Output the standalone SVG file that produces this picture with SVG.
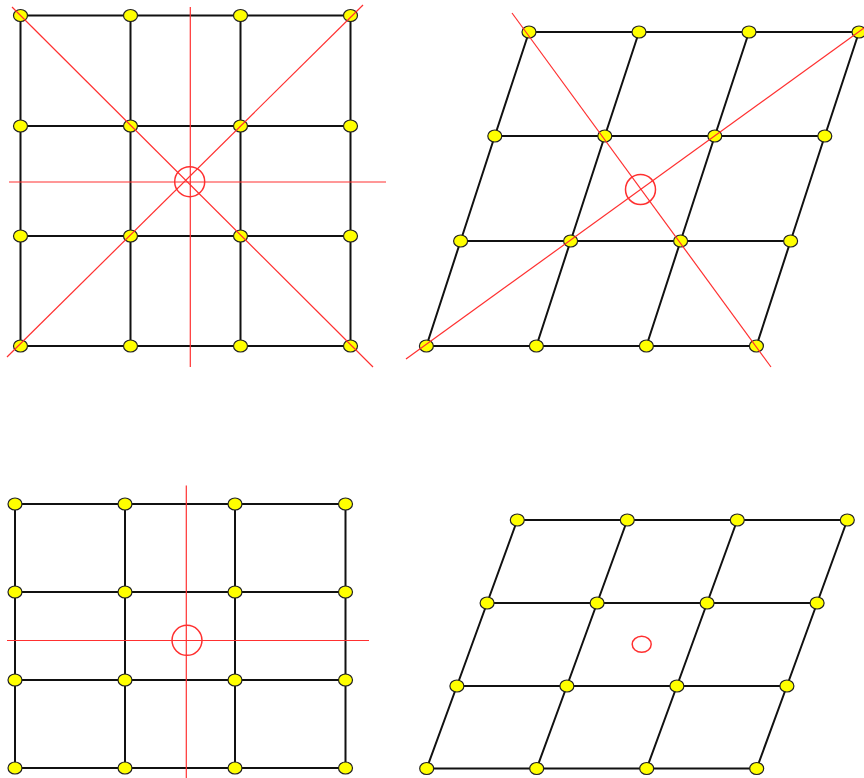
<svg xmlns="http://www.w3.org/2000/svg" width="864" height="778" viewBox="0 0 864 778">
<style>
.bg{fill:#fff}
.edge{stroke:#111;stroke-width:2;fill:none}
.node{fill:#ffff00;stroke:#222;stroke-width:1.2}
.ref{stroke:#ff3030;stroke-width:1.2;fill:none}
.mark{stroke:#ff3030;stroke-width:1.5;fill:none}
</style>
<rect class="bg" x="0" y="0" width="864" height="778"/>
<g id="connectors">
<!-- top-left grid -->
<polyline class="edge" points="20.5,15.5 350.5,15.5"/>
<polyline class="edge" points="20.5,126 350.5,126"/>
<polyline class="edge" points="20.5,236 350.5,236"/>
<polyline class="edge" points="20.5,346 350.5,346"/>
<polyline class="edge" points="20.5,15.5 20.5,346"/>
<polyline class="edge" points="130.5,15.5 130.5,346"/>
<polyline class="edge" points="240.5,15.5 240.5,346"/>
<polyline class="edge" points="350.5,15.5 350.5,346"/>
<!-- top-right grid -->
<polyline class="edge" points="529,32 859,32"/>
<polyline class="edge" points="494.8,136 824.8,136"/>
<polyline class="edge" points="460.6,241 790.6,241"/>
<polyline class="edge" points="426.4,346 756.4,346"/>
<polyline class="edge" points="529,32 494.8,136 460.6,241 426.4,346"/>
<polyline class="edge" points="639,32 604.8,136 570.6,241 536.4,346"/>
<polyline class="edge" points="749,32 714.8,136 680.6,241 646.4,346"/>
<polyline class="edge" points="859,32 824.8,136 790.6,241 756.4,346"/>
<!-- bottom-left grid -->
<polyline class="edge" points="15,504 345.5,504"/>
<polyline class="edge" points="15,592 345.5,592"/>
<polyline class="edge" points="15,680 345.5,680"/>
<polyline class="edge" points="15,768 345.5,768"/>
<polyline class="edge" points="15,504 15,768"/>
<polyline class="edge" points="125,504 125,768"/>
<polyline class="edge" points="235,504 235,768"/>
<polyline class="edge" points="345.5,504 345.5,768"/>
<!-- bottom-right grid -->
<polyline class="edge" points="517.3,520 847.3,520"/>
<polyline class="edge" points="487.1,603 817.1,603"/>
<polyline class="edge" points="456.9,686 786.9,686"/>
<polyline class="edge" points="426.7,768.5 756.7,768.5"/>
<polyline class="edge" points="517.3,520 487.1,603 456.9,686 426.7,768.5"/>
<polyline class="edge" points="627.3,520 597.1,603 566.9,686 536.7,768.5"/>
<polyline class="edge" points="737.3,520 707.1,603 676.9,686 646.7,768.5"/>
<polyline class="edge" points="847.3,520 817.1,603 786.9,686 756.7,768.5"/>
</g>
<g id="tl-nodes">
<g id="tl-r0c0"><ellipse class="node" cx="20.5" cy="15.5" rx="7" ry="6"/></g>
<g id="tl-r0c1"><ellipse class="node" cx="130.5" cy="15.5" rx="7" ry="6"/></g>
<g id="tl-r0c2"><ellipse class="node" cx="240.5" cy="15.5" rx="7" ry="6"/></g>
<g id="tl-r0c3"><ellipse class="node" cx="350.5" cy="15.5" rx="7" ry="6"/></g>
<g id="tl-r1c0"><ellipse class="node" cx="20.5" cy="126" rx="7" ry="6"/></g>
<g id="tl-r1c1"><ellipse class="node" cx="130.5" cy="126" rx="7" ry="6"/></g>
<g id="tl-r1c2"><ellipse class="node" cx="240.5" cy="126" rx="7" ry="6"/></g>
<g id="tl-r1c3"><ellipse class="node" cx="350.5" cy="126" rx="7" ry="6"/></g>
<g id="tl-r2c0"><ellipse class="node" cx="20.5" cy="236" rx="7" ry="6"/></g>
<g id="tl-r2c1"><ellipse class="node" cx="130.5" cy="236" rx="7" ry="6"/></g>
<g id="tl-r2c2"><ellipse class="node" cx="240.5" cy="236" rx="7" ry="6"/></g>
<g id="tl-r2c3"><ellipse class="node" cx="350.5" cy="236" rx="7" ry="6"/></g>
<g id="tl-r3c0"><ellipse class="node" cx="20.5" cy="346" rx="7" ry="6"/></g>
<g id="tl-r3c1"><ellipse class="node" cx="130.5" cy="346" rx="7" ry="6"/></g>
<g id="tl-r3c2"><ellipse class="node" cx="240.5" cy="346" rx="7" ry="6"/></g>
<g id="tl-r3c3"><ellipse class="node" cx="350.5" cy="346" rx="7" ry="6"/></g>
</g>
<g id="tr-nodes">
<g id="tr-r0c0"><ellipse class="node" cx="529" cy="32" rx="7" ry="6"/></g>
<g id="tr-r0c1"><ellipse class="node" cx="639" cy="32" rx="7" ry="6"/></g>
<g id="tr-r0c2"><ellipse class="node" cx="749" cy="32" rx="7" ry="6"/></g>
<g id="tr-r0c3"><ellipse class="node" cx="859" cy="32" rx="7" ry="6"/></g>
<g id="tr-r1c0"><ellipse class="node" cx="494.8" cy="136" rx="7" ry="6"/></g>
<g id="tr-r1c1"><ellipse class="node" cx="604.8" cy="136" rx="7" ry="6"/></g>
<g id="tr-r1c2"><ellipse class="node" cx="714.8" cy="136" rx="7" ry="6"/></g>
<g id="tr-r1c3"><ellipse class="node" cx="824.8" cy="136" rx="7" ry="6"/></g>
<g id="tr-r2c0"><ellipse class="node" cx="460.6" cy="241" rx="7" ry="6"/></g>
<g id="tr-r2c1"><ellipse class="node" cx="570.6" cy="241" rx="7" ry="6"/></g>
<g id="tr-r2c2"><ellipse class="node" cx="680.6" cy="241" rx="7" ry="6"/></g>
<g id="tr-r2c3"><ellipse class="node" cx="790.6" cy="241" rx="7" ry="6"/></g>
<g id="tr-r3c0"><ellipse class="node" cx="426.4" cy="346" rx="7" ry="6"/></g>
<g id="tr-r3c1"><ellipse class="node" cx="536.4" cy="346" rx="7" ry="6"/></g>
<g id="tr-r3c2"><ellipse class="node" cx="646.4" cy="346" rx="7" ry="6"/></g>
<g id="tr-r3c3"><ellipse class="node" cx="756.4" cy="346" rx="7" ry="6"/></g>
</g>
<g id="bl-nodes">
<g id="bl-r0c0"><ellipse class="node" cx="15" cy="504" rx="7" ry="6"/></g>
<g id="bl-r0c1"><ellipse class="node" cx="125" cy="504" rx="7" ry="6"/></g>
<g id="bl-r0c2"><ellipse class="node" cx="235" cy="504" rx="7" ry="6"/></g>
<g id="bl-r0c3"><ellipse class="node" cx="345.5" cy="504" rx="7" ry="6"/></g>
<g id="bl-r1c0"><ellipse class="node" cx="15" cy="592" rx="7" ry="6"/></g>
<g id="bl-r1c1"><ellipse class="node" cx="125" cy="592" rx="7" ry="6"/></g>
<g id="bl-r1c2"><ellipse class="node" cx="235" cy="592" rx="7" ry="6"/></g>
<g id="bl-r1c3"><ellipse class="node" cx="345.5" cy="592" rx="7" ry="6"/></g>
<g id="bl-r2c0"><ellipse class="node" cx="15" cy="680" rx="7" ry="6"/></g>
<g id="bl-r2c1"><ellipse class="node" cx="125" cy="680" rx="7" ry="6"/></g>
<g id="bl-r2c2"><ellipse class="node" cx="235" cy="680" rx="7" ry="6"/></g>
<g id="bl-r2c3"><ellipse class="node" cx="345.5" cy="680" rx="7" ry="6"/></g>
<g id="bl-r3c0"><ellipse class="node" cx="15" cy="768" rx="7" ry="6"/></g>
<g id="bl-r3c1"><ellipse class="node" cx="125" cy="768" rx="7" ry="6"/></g>
<g id="bl-r3c2"><ellipse class="node" cx="235" cy="768" rx="7" ry="6"/></g>
<g id="bl-r3c3"><ellipse class="node" cx="345.5" cy="768" rx="7" ry="6"/></g>
</g>
<g id="br-nodes">
<g id="br-r0c0"><ellipse class="node" cx="517.3" cy="520" rx="7" ry="6"/></g>
<g id="br-r0c1"><ellipse class="node" cx="627.3" cy="520" rx="7" ry="6"/></g>
<g id="br-r0c2"><ellipse class="node" cx="737.3" cy="520" rx="7" ry="6"/></g>
<g id="br-r0c3"><ellipse class="node" cx="847.3" cy="520" rx="7" ry="6"/></g>
<g id="br-r1c0"><ellipse class="node" cx="487.1" cy="603" rx="7" ry="6"/></g>
<g id="br-r1c1"><ellipse class="node" cx="597.1" cy="603" rx="7" ry="6"/></g>
<g id="br-r1c2"><ellipse class="node" cx="707.1" cy="603" rx="7" ry="6"/></g>
<g id="br-r1c3"><ellipse class="node" cx="817.1" cy="603" rx="7" ry="6"/></g>
<g id="br-r2c0"><ellipse class="node" cx="456.9" cy="686" rx="7" ry="6"/></g>
<g id="br-r2c1"><ellipse class="node" cx="566.9" cy="686" rx="7" ry="6"/></g>
<g id="br-r2c2"><ellipse class="node" cx="676.9" cy="686" rx="7" ry="6"/></g>
<g id="br-r2c3"><ellipse class="node" cx="786.9" cy="686" rx="7" ry="6"/></g>
<g id="br-r3c0"><ellipse class="node" cx="426.7" cy="768.5" rx="7" ry="6"/></g>
<g id="br-r3c1"><ellipse class="node" cx="536.7" cy="768.5" rx="7" ry="6"/></g>
<g id="br-r3c2"><ellipse class="node" cx="646.7" cy="768.5" rx="7" ry="6"/></g>
<g id="br-r3c3"><ellipse class="node" cx="756.7" cy="768.5" rx="7" ry="6"/></g>
</g>
<g id="reference-lines">
<line class="ref" x1="190.3" y1="7" x2="190.3" y2="367"/>
<line class="ref" x1="9" y1="182" x2="386" y2="182"/>
<line class="ref" x1="12" y1="7" x2="373" y2="367"/>
<line class="ref" x1="363" y1="5" x2="7" y2="357"/>
<circle class="mark" cx="189.7" cy="181.7" r="15"/>
<line class="ref" x1="512" y1="13" x2="771" y2="367"/>
<line class="ref" x1="406" y1="359" x2="864" y2="28"/>
<circle class="mark" cx="640.5" cy="189.5" r="15"/>
<line class="ref" x1="186.3" y1="485.5" x2="186.3" y2="778"/>
<line class="ref" x1="7" y1="640.5" x2="369" y2="640.5"/>
<circle class="mark" cx="187" cy="640.3" r="15"/>
<ellipse class="mark" cx="641.7" cy="644.3" rx="9.5" ry="8"/>
</g>
</svg>
